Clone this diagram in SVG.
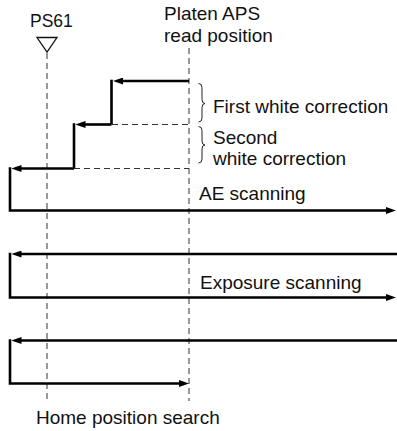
<svg xmlns="http://www.w3.org/2000/svg" width="397" height="431" viewBox="0 0 397 431">
<defs>
<style>
text{font-family:"Liberation Sans",Arial,sans-serif;font-size:19px;fill:#111}
.dash{stroke:#333;stroke-width:1;stroke-dasharray:6 4;fill:none}
.thick{stroke:#000;stroke-width:2.6;fill:none;stroke-linejoin:miter}
.arr{marker-end:url(#ah)}
.brace{stroke:#222;stroke-width:1;fill:none}
</style>
<marker id="ah" markerUnits="userSpaceOnUse" markerWidth="10" markerHeight="7" refX="4" refY="3.5" orient="auto">
<path d="M0,0 L10,3.5 L0,7 z" fill="#000"/>
</marker>
</defs>
<rect width="397" height="431" fill="#fff"/>

<g id="ps61">
<text x="30" y="26.5" style="font-size:17.5px">PS61</text>
<polygon points="37,37.5 57,37.5 47,52" fill="none" stroke="#111" stroke-width="1.3"/>
</g>
<g id="platen">
<text x="164" y="20">Platen APS</text>
<text x="164" y="42">read position</text>
</g>

<g id="guides">
<line class="dash" x1="47" y1="53" x2="47" y2="401"/>
<line class="dash" x1="189" y1="48" x2="189" y2="401"/>
<line class="dash" x1="112" y1="124.5" x2="189" y2="124.5"/>
<line class="dash" x1="74" y1="168.5" x2="189" y2="168.5"/>
</g>

<g id="first-white-correction">
<path class="brace" d="M198.5,83.5 Q202,83.5 202,87.5 L202,99.5 Q202,103.5 205,103.5 Q202,103.5 202,107.5 L202,118 Q202,122 198.5,122"/>
<text x="213" y="112.5">First white correction</text>
</g>
<g id="second-white-correction">
<path class="brace" d="M198.5,126.5 Q202,126.5 202,130.5 L202,141 Q202,145 205,145 Q202,145 202,149 L202,159 Q202,163 198.5,163"/>
<text x="213" y="143.5">Second</text>
<text x="213" y="165">white correction</text>
</g>
<g id="ae-scanning">
<text x="199" y="199.5">AE scanning</text>
</g>
<g id="exposure-scanning">
<text x="200" y="288.5">Exposure scanning</text>
</g>
<g id="home-position-search">
<text x="36" y="424">Home position search</text>
</g>

<g id="connectors">
<path class="thick arr" d="M189,81 L119,81"/>
<path class="thick" d="M111.5,79.7 L111.5,124.5"/>
<path class="thick arr" d="M111.5,124.5 L81.5,124.5"/>
<path class="thick" d="M74,123.2 L74,168.5"/>
<path class="thick arr" d="M74,168.5 L17.5,168.5"/>
<path class="thick arr" d="M10,167.2 L10,210.5 L390,210.5"/>
<path class="thick arr" d="M397,254 L17.5,254"/>
<path class="thick arr" d="M10,252.7 L10,297.5 L390,297.5"/>
<path class="thick arr" d="M397,340.5 L17.5,340.5"/>
<path class="thick arr" d="M10,339.2 L10,383.5 L183,383.5"/>
</g>
</svg>
